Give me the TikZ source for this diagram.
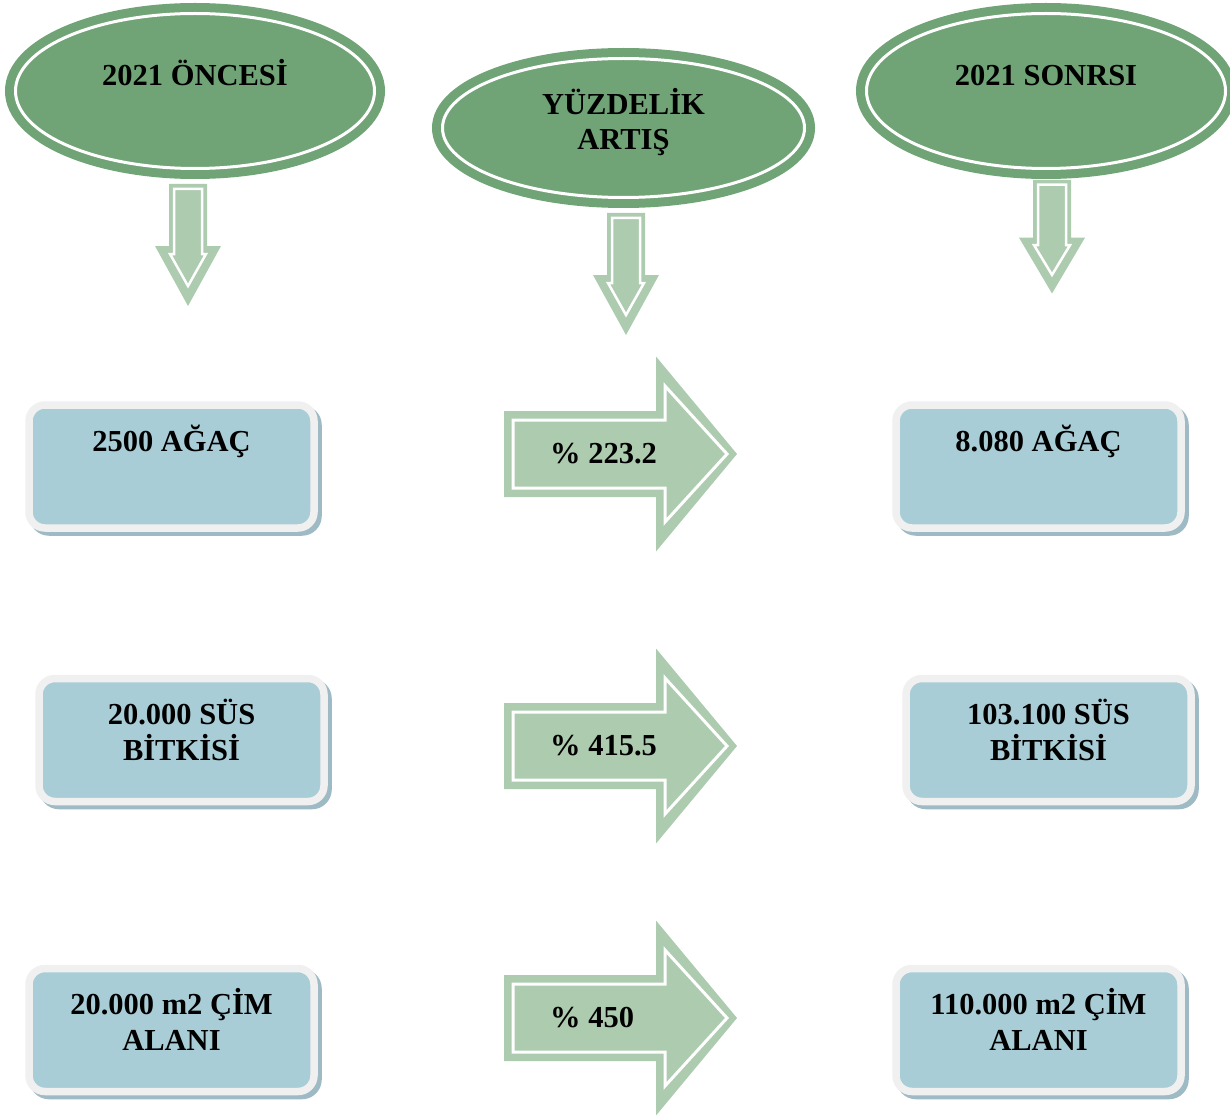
\documentclass[tikz,border=0pt]{standalone}
\usepackage{fontspec}
\setmainfont{Liberation Serif}
\usetikzlibrary{shapes.geometric,shadows}

\definecolor{darkleaf}{HTML}{70A376}
\definecolor{paleleaf}{HTML}{ADCBAE}
\definecolor{boxblue}{HTML}{A9CDD6}
\definecolor{boxrim}{HTML}{F0F0F0}
\definecolor{boxshade}{HTML}{9EBAC4}

\tikzset{
  yearoval/.style={ellipse, draw=darkleaf, fill=darkleaf, line width=9pt,
    double=white, double distance=3pt, inner sep=0pt},
  valbox/.style={rectangle, rounded corners=16pt, draw=boxrim, fill=boxblue,
    line width=7.5pt, minimum width=285pt, minimum height=123pt, inner sep=0pt,
    drop shadow={shadow xshift=4pt, shadow yshift=-4pt, fill=boxshade, draw=boxshade, opacity=1}},
  bigtext/.style={font=\fontsize{30.5}{35.5}\selectfont\bfseries, align=center, inner sep=0pt},
  downarr/.pic={
    \fill[paleleaf] (-19,0) -- (19,0) -- (19,62) -- (33,62) -- (0,122) -- (-33,62) -- (-19,62) -- cycle;
    \draw[white, line width=2.5pt] (-14,5) -- (14,5) -- (14,70) -- (18,70) -- (0,102) -- (-18,70) -- (-14,70) -- cycle;
  },
  rightarr/.pic={
    \fill[paleleaf] (0,-43) -- (152,-43) -- (152,-97.5) -- (233,0) -- (152,97.5) -- (152,43) -- (0,43) -- cycle;
    \draw[white, line width=3pt] (9,-34) -- (161,-34) -- (161,-68) -- (223,0) -- (161,68) -- (161,34) -- (9,34) -- cycle;
  }
}

\begin{document}
\begin{tikzpicture}[x=1pt, y=-1pt]
  \useasboundingbox (0,0) rectangle (1230,1115);

  % header ovals
  \node[yearoval, minimum width=359pt, minimum height=155pt] (before) at (195,91) {};
  \node[yearoval, minimum width=362pt, minimum height=139pt] (change) at (623.5,128) {};
  \node[yearoval, minimum width=359pt, minimum height=155pt] (after) at (1046,91) {};
  \node[bigtext, anchor=base] (beforetxt) at ([yshift=5pt]before.center) {2021 ÖNCESİ};
  \node[bigtext, anchor=base] (changetxt) at ([yshift=-22pt]change.center) {YÜZDELİK\\ARTIŞ};
  \node[bigtext, anchor=base] (aftertxt) at ([yshift=5pt]after.center) {2021 SONRSI};

  % down arrows
  \pic at (188,184) {downarr};
  \pic at (626,213) {downarr};
  \pic[yscale=0.93] at (1052,180) {downarr};

  % values before
  \node[valbox] (oldtree) at (171.5,466.5) {};
  \node[valbox] (oldplant) at (181.5,740) {};
  \node[valbox] (oldgrass) at (171.5,1030) {};
  \node[bigtext, anchor=base] (oldtreetxt) at ([yshift=15pt]oldtree.center) {2500 AĞAÇ};
  \node[bigtext, anchor=base] (oldplanttxt) at ([yshift=-20pt]oldplant.center) {20.000 SÜS\\BİTKİSİ};
  \node[bigtext, anchor=base] (oldgrasstxt) at ([yshift=-20pt]oldgrass.center) {20.000 m2 ÇİM\\ALANI};

  % percentage arrows
  \pic at (504,454) {rightarr};
  \pic at (504,746) {rightarr};
  \pic at (504,1018) {rightarr};
  \node[bigtext, anchor=base west] (treepct) at (550,463) {\% 223.2};
  \node[bigtext, anchor=base west] (plantpct) at (550,755) {\% 415.5};
  \node[bigtext, anchor=base west] (grasspct) at (550,1027) {\% 450};

  % values after
  \node[valbox] (newtree) at (1038.5,466.5) {};
  \node[valbox] (newplant) at (1048.5,740) {};
  \node[valbox] (newgrass) at (1038.5,1030) {};
  \node[bigtext, anchor=base] (newtreetxt) at ([yshift=15pt]newtree.center) {8.080 AĞAÇ};
  \node[bigtext, anchor=base] (newplanttxt) at ([yshift=-20pt]newplant.center) {103.100 SÜS\\BİTKİSİ};
  \node[bigtext, anchor=base] (newgrasstxt) at ([yshift=-20pt]newgrass.center) {110.000 m2 ÇİM\\ALANI};
\end{tikzpicture}
\end{document}
